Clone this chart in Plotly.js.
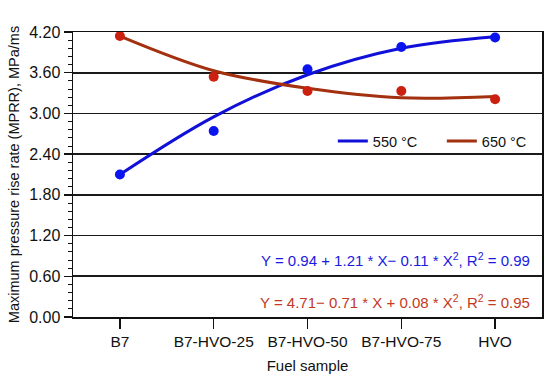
<!DOCTYPE html>
<html>
<head>
<meta charset="utf-8">
<script src="https://cdn.plot.ly/plotly-3.0.1.min.js"></script>
<style>html,body{margin:0;padding:0;background:#fff}#chart{width:550px;height:376px}</style>
</head>
<body>
<div id="chart"></div>
<script>
const categories = ["B7", "B7-HVO-25", "B7-HVO-50", "B7-HVO-75", "HVO"];
const mprr550 = [2.10, 2.74, 3.65, 3.98, 4.12];
const mprr650 = [4.14, 3.54, 3.33, 3.33, 3.21];
// trend curves at each category
const fit550 = [2.10, 2.95, 3.57, 3.96, 4.13];
const fit650 = [4.14, 3.63, 3.37, 3.23, 3.25];
const yTicks = [0, 0.6, 1.2, 1.8, 2.4, 3.0, 3.6, 4.2];
const yTickText = ["0.00", "0.60", "1.20", "1.80", "2.40", "3.00", "3.60", "4.20"];
const eq550 = "Y = 0.94 + 1.21 * X\u2212 0.11 * X<sup>2</sup>, R<sup>2</sup> = 0.99";
const eq650 = "Y = 4.71\u2212 0.71 * X + 0.08 * X<sup>2</sup>, R<sup>2</sup> = 0.95";

const idx = categories.map((c, i) => i);
const blueLine = "#1010d8", blueDot = "#0a14ee";
const redLine = "#a3300f", redDot = "#cc2010";
const font = "Liberation Sans, Arial, sans-serif";

const traces = [
  {x: idx, y: fit550, mode: "lines", line: {color: blueLine, width: 3, shape: "spline"}, name: "550 \u00b0C"},
  {x: idx, y: fit650, mode: "lines", line: {color: redLine, width: 3, shape: "spline"}, name: "650 \u00b0C"},
  {x: idx, y: mprr550, mode: "markers", marker: {color: blueDot, size: 10}, showlegend: false},
  {x: idx, y: mprr650, mode: "markers", marker: {color: redDot, size: 10}, showlegend: false}
];

const layout = {
  width: 550, height: 376,
  margin: {l: 73, r: 8, t: 32, b: 59, autoexpand: false},
  paper_bgcolor: "#fff", plot_bgcolor: "#fff",
  font: {family: font, size: 14, color: "#111"},
  showlegend: true,
  legend: {orientation: "h", x: 0.554, y: (317 - 141) / 285, xanchor: "left", yanchor: "middle",
           entrywidth: 64, bgcolor: "rgba(0,0,0,0)", font: {size: 14.5, family: font, color: "#111"}},
  xaxis: {
    range: [-0.5, 4.5], tickvals: idx, ticktext: categories,
    showgrid: false, zeroline: false,
    showline: true, linecolor: "#111", linewidth: 1.5, mirror: true,
    ticks: "outside", ticklen: 10, tickwidth: 1.5, tickcolor: "#111",
    tickfont: {size: 15.5, family: font, color: "#111"},
    title: {text: "Fuel sample", font: {size: 15, family: font, color: "#111"}, standoff: 11}
  },
  yaxis: {
    range: [0, 4.2], tickvals: yTicks, ticktext: yTickText,
    showgrid: true, gridcolor: "#1a1a1a", gridwidth: 1.6, zeroline: false,
    showline: true, linecolor: "#111", linewidth: 1.5, mirror: true,
    ticks: "outside", ticklen: 8, tickwidth: 1.5, tickcolor: "#111",
    minor: {dtick: 0.12, ticks: "outside", ticklen: 4, tickwidth: 1, tickcolor: "#111", showgrid: false},
    tickfont: {size: 16, family: font, color: "#111"},
    title: {text: "Maximum pressure rise rate (MPRR), MPa/ms", font: {size: 14.5, family: font, color: "#111"}, standoff: 6}
  },
  annotations: [
    {xref: "paper", yref: "paper", x: 0.979, y: (317 - 259) / 285, xanchor: "right", yanchor: "middle",
     text: eq550, showarrow: false, font: {size: 15, family: font, color: "#1a1ae0"}},
    {xref: "paper", yref: "paper", x: 0.979, y: (317 - 301) / 285, xanchor: "right", yanchor: "middle",
     text: eq650, showarrow: false, font: {size: 15, family: font, color: "#c23a25"}}
  ]
};

Plotly.newPlot("chart", traces, layout, {displayModeBar: false, staticPlot: true});
</script>
</body>
</html>
